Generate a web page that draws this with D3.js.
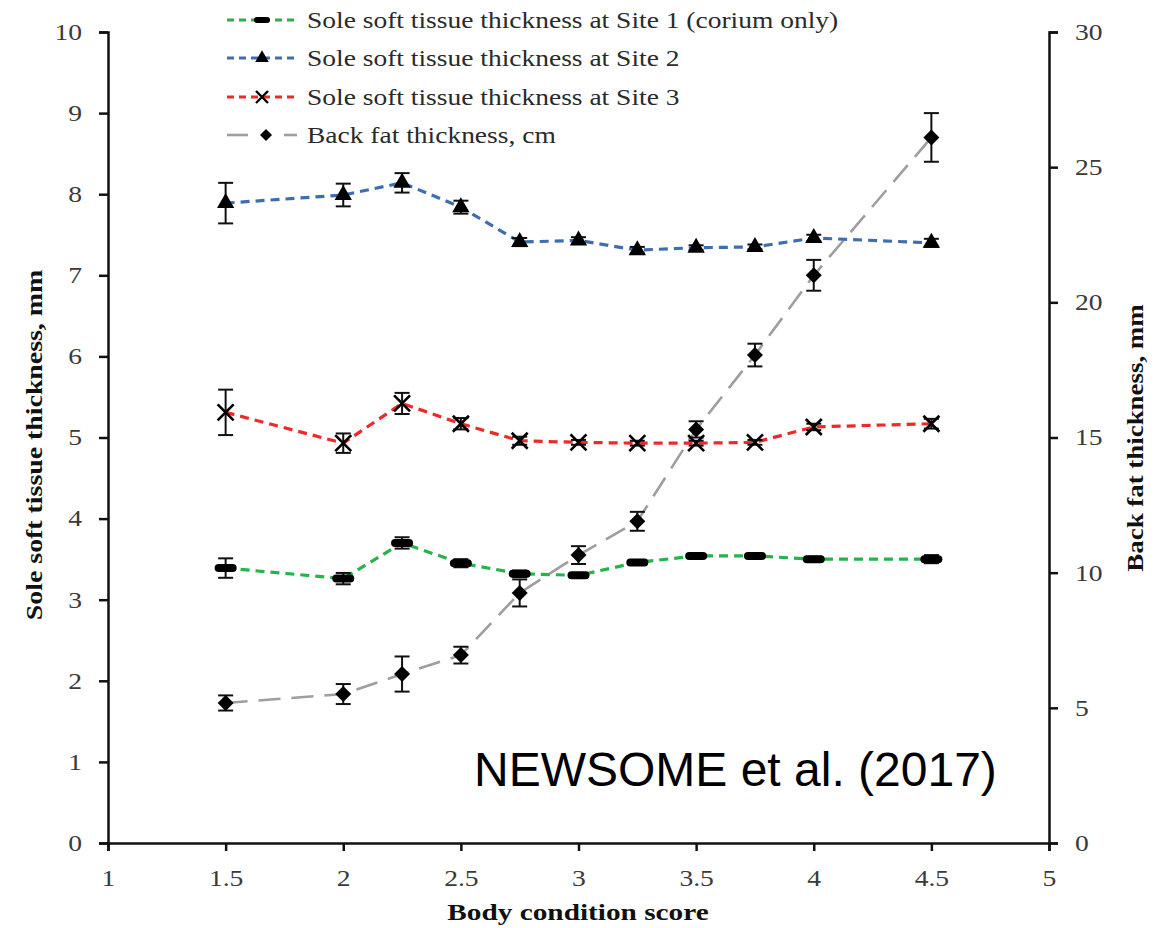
<!DOCTYPE html>
<html>
<head>
<meta charset="utf-8">
<script src="https://cdn.jsdelivr.net/npm/d3@7"></script>
<style>
  html, body { margin: 0; padding: 0; background: #fff; }
  svg { display: block; }
</style>
</head>
<body>
<svg id="chart" width="1158" height="928"></svg>
<script>
// Body condition score groups
const bcs = [1.5, 2, 2.25, 2.5, 2.75, 3, 3.25, 3.5, 3.75, 4, 4.5];

// Sole soft tissue thickness (mm), mean and SE
const site1 = [3.39, 3.26, 3.70, 3.45, 3.32, 3.30, 3.46, 3.54, 3.54, 3.50, 3.50];
const site1Err = [0.12, 0.07, 0.07, 0.05, 0.04, 0.03, 0.03, 0.02, 0.02, 0.03, 0.05];
const site2 = [7.89, 7.99, 8.14, 7.84, 7.41, 7.43, 7.31, 7.34, 7.35, 7.46, 7.40];
const site2Err = [0.25, 0.14, 0.12, 0.08, 0.05, 0.04, 0.04, 0.03, 0.03, 0.04, 0.05];
const site3 = [5.31, 4.93, 5.42, 5.17, 4.96, 4.94, 4.93, 4.93, 4.94, 5.13, 5.17];
const site3Err = [0.28, 0.12, 0.13, 0.07, 0.05, 0.03, 0.03, 0.03, 0.03, 0.04, 0.06];

// Back fat thickness (mm, right axis), mean and SE
const backFat = [5.18, 5.51, 6.25, 6.95, 9.25, 10.65, 11.9, 15.3, 18.05, 21.0, 26.1];
const backFatErr = [0.28, 0.37, 0.65, 0.31, 0.50, 0.33, 0.35, 0.30, 0.42, 0.57, 0.90];

// Axis ticks
const xTicks = [1, 1.5, 2, 2.5, 3, 3.5, 4, 4.5, 5];
const yLeftTicks = [0, 1, 2, 3, 4, 5, 6, 7, 8, 9, 10];
const yRightTicks = [0, 5, 10, 15, 20, 25, 30];

const legendLabels = [
  "Sole soft tissue thickness at Site 1 (corium only)",
  "Sole soft tissue thickness at Site 2",
  "Sole soft tissue thickness at Site 3",
  "Back fat thickness, cm"
];

const svg = d3.select("#chart");
const plotLeft = 108, plotRight = 1049, plotTop = 32, plotBottom = 843;

const x = d3.scaleLinear().domain([1, 5]).range([plotLeft, plotRight]);
const yL = d3.scaleLinear().domain([0, 10]).range([plotBottom, plotTop]);
const yR = d3.scaleLinear().domain([0, 30]).range([plotBottom, plotTop]);

const serif = "'Liberation Serif', 'Times New Roman', serif";
const tickColor = "#3a3a3a";

// Widen glyphs along the baseline by a given factor (keeps anchor behaviour)
function widen(sel, factor) {
  sel.each(function () {
    const len = this.getComputedTextLength();
    d3.select(this).attr("textLength", len * factor).attr("lengthAdjust", "spacingAndGlyphs");
  });
}

// Axes
function styleAxis(g) {
  g.selectAll("path").attr("stroke", "#111").attr("stroke-width", 2.5);
  g.selectAll("line").attr("stroke", "#111").attr("stroke-width", 2.5);
  g.selectAll("text").attr("font-family", serif).attr("font-size", 23).attr("fill", tickColor);
  widen(g.selectAll("text"), 1.2);
}

svg.append("g")
  .attr("transform", `translate(0,${plotBottom})`)
  .call(d3.axisBottom(x).tickValues(xTicks).tickSizeOuter(0).tickSize(8).tickPadding(19)
    .tickFormat(d3.format("")))
  .call(styleAxis);

svg.append("g")
  .attr("transform", `translate(${plotLeft},0)`)
  .call(d3.axisLeft(yL).tickValues(yLeftTicks).tickSizeOuter(0).tickSize(9).tickPadding(17)
    .tickFormat(d3.format("d")))
  .call(styleAxis);

svg.append("g")
  .attr("transform", `translate(${plotRight},0)`)
  .call(d3.axisRight(yR).tickValues(yRightTicks).tickSizeOuter(0).tickSize(9).tickPadding(17)
    .tickFormat(d3.format("d")))
  .call(styleAxis);

// Axis titles
const xTitle = svg.append("text")
  .attr("x", 578).attr("y", 920)
  .attr("text-anchor", "middle")
  .attr("font-family", serif).attr("font-weight", "bold").attr("font-size", 24)
  .attr("fill", "#111")
  .text("Body condition score");
widen(xTitle, 1.22);

const yLeftTitle = svg.append("text")
  .attr("transform", `translate(42,445) rotate(-90)`)
  .attr("text-anchor", "middle")
  .attr("font-family", serif).attr("font-weight", "bold").attr("font-size", 24)
  .attr("fill", "#111")
  .text("Sole soft tissue thickness, mm");
widen(yLeftTitle, 1.16);

const yRightTitle = svg.append("text")
  .attr("transform", `translate(1143,438) rotate(-90)`)
  .attr("text-anchor", "middle")
  .attr("font-family", serif).attr("font-weight", "bold").attr("font-size", 24)
  .attr("fill", "#111")
  .text("Back fat thickness, mm");
widen(yRightTitle, 1.12);

// Series definitions
const series = [
  { vals: site1, err: site1Err, y: yL, color: "#27b24a", dash: "9,6", width: 3.2, marker: "bar" },
  { vals: site2, err: site2Err, y: yL, color: "#3f6eb0", dash: "9,6", width: 3.2, marker: "triangle" },
  { vals: site3, err: site3Err, y: yL, color: "#f0282a", dash: "9,6", width: 3.2, marker: "cross" },
  { vals: backFat, err: backFatErr, y: yR, color: "#9e9e9e", dash: "22,11", width: 2.6, marker: "diamond" }
];

function drawMarker(g, type, cx, cy) {
  if (type === "bar") {
    g.append("rect").attr("x", cx - 11).attr("y", cy - 4).attr("width", 22).attr("height", 8)
      .attr("rx", 4).attr("fill", "#000");
  } else if (type === "triangle") {
    g.append("path").attr("d", d3.symbol(d3.symbolTriangle, 130)())
      .attr("transform", `translate(${cx},${cy})`).attr("fill", "#000");
  } else if (type === "cross") {
    g.append("path").attr("d", `M${cx - 8},${cy - 8}L${cx + 8},${cy + 8}M${cx - 8},${cy + 8}L${cx + 8},${cy - 8}`)
      .attr("stroke", "#000").attr("stroke-width", 2.6).attr("fill", "none");
  } else if (type === "diamond") {
    g.append("path").attr("d", `M${cx},${cy - 8}L${cx + 8},${cy}L${cx},${cy + 8}L${cx - 8},${cy}Z`)
      .attr("fill", "#000");
  }
}

const plot = svg.append("g");

// Draw back fat first, then sole tissue series on top
const drawOrder = [3, 0, 1, 2];
drawOrder.forEach(i => {
  const s = series[i];
  const pts = bcs.map((b, j) => ({ b, v: s.vals[j], e: s.err[j] }));
  const line = d3.line().x(d => x(d.b)).y(d => s.y(d.v));
  const g = plot.append("g");

  g.append("path").datum(pts).attr("d", line)
    .attr("fill", "none").attr("stroke", s.color).attr("stroke-width", s.width)
    .attr("stroke-dasharray", s.dash);

  // Error bars
  const eb = g.append("g").attr("stroke", "#111").attr("stroke-width", 2).attr("fill", "none");
  pts.forEach(d => {
    const cx = x(d.b), y1 = s.y(d.v - d.e), y2 = s.y(d.v + d.e);
    eb.append("line").attr("x1", cx).attr("x2", cx).attr("y1", y1).attr("y2", y2);
    eb.append("line").attr("x1", cx - 7.5).attr("x2", cx + 7.5).attr("y1", y1).attr("y2", y1);
    eb.append("line").attr("x1", cx - 7.5).attr("x2", cx + 7.5).attr("y1", y2).attr("y2", y2);
  });

  pts.forEach(d => drawMarker(g, s.marker, x(d.b), s.y(d.v)));
});

// Legend
const legend = svg.append("g");
const legendRows = [20, 58, 97, 135];
[0, 1, 2, 3].forEach(i => {
  const s = series[i];
  const yy = legendRows[i];
  const g = legend.append("g");
  if (i < 3) {
    g.append("line").attr("x1", 227).attr("x2", 297).attr("y1", yy).attr("y2", yy)
      .attr("stroke", s.color).attr("stroke-width", 3).attr("stroke-dasharray", "7,5");
  } else {
    g.append("line").attr("x1", 227).attr("x2", 248).attr("y1", yy).attr("y2", yy)
      .attr("stroke", s.color).attr("stroke-width", 2.6);
    g.append("line").attr("x1", 284).attr("x2", 297).attr("y1", yy).attr("y2", yy)
      .attr("stroke", s.color).attr("stroke-width", 2.6);
  }
  if (i === 0) {
    g.append("rect").attr("x", 254).attr("y", yy - 3).attr("width", 16).attr("height", 6)
      .attr("rx", 3).attr("fill", "#000");
  } else if (i === 1) {
    g.append("path").attr("d", d3.symbol(d3.symbolTriangle, 80)())
      .attr("transform", `translate(262,${yy})`).attr("fill", "#000");
  } else if (i === 2) {
    g.append("path").attr("d", `M256,${yy - 6}L268,${yy + 6}M256,${yy + 6}L268,${yy - 6}`)
      .attr("stroke", "#000").attr("stroke-width", 2.4);
  } else {
    g.append("path").attr("d", `M266,${yy - 6}L272,${yy}L266,${yy + 6}L260,${yy}Z`).attr("fill", "#000");
  }
  const t = g.append("text").attr("x", 307).attr("y", yy + 8)
    .attr("font-family", serif).attr("font-size", 24).attr("fill", "#2a2a2a")
    .text(legendLabels[i]);
  widen(t, 1.145);
});

// Source note
svg.append("text")
  .attr("x", 474).attr("y", 786)
  .attr("font-family", "'Liberation Sans', Arial, sans-serif").attr("font-size", 48)
  .attr("fill", "#000")
  .text("NEWSOME et al. (2017)");
</script>
</body>
</html>
